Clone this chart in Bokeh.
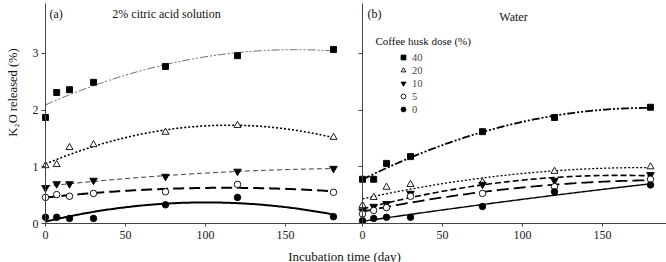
import numpy as np
from bokeh.plotting import figure
from bokeh.models import Range1d, LinearAxis, FixedTicker, Label, Legend, LegendItem
from bokeh.embed import file_html
from bokeh.resources import INLINE

# ---------------- data ----------------
days = [0, 7, 15, 30, 75, 120, 180]
doses = ["40", "20", "10", "5", "0"]

# (a) 2% citric acid solution
a_40 = [1.87, 2.31, 2.36, 2.49, 2.77, 2.96, 3.07]
a_20 = [1.02, 1.04, 1.34, 1.39, 1.61, 1.73, 1.52]
a_10 = [0.63, 0.70, 0.70, 0.76, 0.83, 0.92, 0.97]
a_5 = [0.46, 0.51, 0.48, 0.53, 0.56, 0.69, 0.55]
a_0 = [0.11, 0.11, 0.09, 0.09, 0.33, 0.46, 0.12]

# (b) water
b_40 = [0.78, 0.78, 1.06, 1.18, 1.62, 1.87, 2.05]
b_20 = [0.32, 0.46, 0.64, 0.69, 0.73, 0.92, 1.00]
b_10 = [0.22, 0.30, 0.35, 0.53, 0.69, 0.76, 0.86]
b_5 = [0.17, 0.23, 0.28, 0.48, 0.53, 0.65, 0.78]
b_0 = [0.05, 0.09, 0.11, 0.11, 0.30, 0.56, 0.68]

x_ticks = [0, 50, 100, 150]
y_ticks = [0, 1, 2, 3]

FONT = "Liberation Serif"

# ---------------- layout constants ----------------
PX_PER_DAY = 1.6
A0 = 45          # pixel of day 0, panel a
B0 = 362         # pixel of day 0, panel b
W, H = 666, 262
PX_PER_UNIT = 56.7
Y0 = 223         # pixel of value 0

x_a = Range1d(-A0 / PX_PER_DAY, (W - A0) / PX_PER_DAY)
x_b = Range1d(-B0 / PX_PER_DAY, (W - B0) / PX_PER_DAY)
y_r = Range1d(-(H - Y0) / PX_PER_UNIT, Y0 / PX_PER_UNIT)

p = figure(width=W, height=H, x_range=x_a, y_range=y_r,
           x_axis_location=None, y_axis_location=None,
           output_backend="svg", toolbar_location=None,
           min_border_left=0, min_border_right=0,
           min_border_top=0, min_border_bottom=0)
p.extra_x_ranges = {"b": x_b}
p.outline_line_color = None
for g in p.grid:
    g.visible = False

# ---------------- axes ----------------
b_off = (B0 - A0) / PX_PER_DAY
xt = list(x_ticks) + [b_off + t for t in x_ticks]
ov = {float(t): str(t) for t in x_ticks}
ov.update({float(b_off + t): str(t) for t in x_ticks})
xa = LinearAxis(fixed_location=0, bounds=(0, x_a.end), ticker=FixedTicker(ticks=xt),
                major_label_overrides=ov, axis_line_color="#444", major_tick_line_color="#444",
                major_tick_in=0, major_tick_out=3, minor_tick_in=0, minor_tick_out=0,
                major_label_standoff=4, major_label_text_font=FONT,
                major_label_text_font_size="12px", major_label_text_color="#222")
p.add_layout(xa, "below")

ytop = 220 / PX_PER_UNIT
ya = LinearAxis(fixed_location=0, bounds=(0, ytop), ticker=FixedTicker(ticks=y_ticks),
                axis_line_color="#444", major_tick_line_color="#444",
                major_tick_in=0, major_tick_out=4, minor_tick_in=0, minor_tick_out=0,
                major_label_standoff=3, major_label_text_font=FONT,
                major_label_text_font_size="12px", major_label_text_color="#222")
p.add_layout(ya, "left")
yb = LinearAxis(x_range_name="b", fixed_location=0, bounds=(0, ytop),
                ticker=FixedTicker(ticks=y_ticks),
                major_label_overrides={t: "" for t in y_ticks},
                axis_line_color="#444", major_tick_line_color="#444",
                major_tick_in=0, major_tick_out=4, minor_tick_in=0, minor_tick_out=0,
                major_label_standoff=0, major_label_text_font_size="1px")
p.add_layout(yb, "left")

# ---------------- series ----------------
markers = {"40": ("square", 6, "black"), "20": ("triangle", 7, "white"),
           "10": ("inverted_triangle", 7.5, "black"), "5": ("circle", 6.5, "white"),
           "0": ("circle", 6.5, "black")}
styles_a = {"40": ("8 2 2 2 2 2", 1.0, "#666"), "20": ("2 2", 1.6, "black"),
            "10": ("5 3", 1.0, "#333"), "5": ("11 5", 2.0, "black"), "0": ("solid", 2.0, "black")}
styles_b = {"40": ("8 2 2 2 2 2", 1.8, "black"), "20": ("2 2", 1.3, "black"),
            "10": ("6 3", 1.6, "black"), "5": ("12 5", 1.8, "black"), "0": ("solid", 1.4, "black")}

series_a = [a_40, a_20, a_10, a_5, a_0]
series_b = [b_40, b_20, b_10, b_5, b_0]

xs_fit = np.linspace(min(days), max(days), 181)
legend_renderers = {}
for panel, series, styles in (("a", series_a, styles_a), ("b", series_b, styles_b)):
    rn = "default" if panel == "a" else "b"
    for dose, vals in zip(doses, series):
        coef = np.polyfit(days, vals, 2)
        dash, lw, lc = styles[dose]
        p.line(xs_fit, np.polyval(coef, xs_fit), line_dash=dash, line_width=lw,
               line_color=lc, x_range_name=rn)
    for dose, vals in zip(doses, series):
        mk, sz, fc = markers[dose]
        r = p.scatter(days, vals, marker=mk, size=sz, fill_color=fc,
                      line_color="black", line_width=0.9, x_range_name=rn)
        if panel == "b":
            legend_renderers[dose] = r

# ---------------- legend ----------------
leg = Legend(items=[LegendItem(label=d, renderers=[legend_renderers[d]]) for d in doses],
             location=(397, 147), glyph_width=12, glyph_height=12, label_height=12,
             label_standoff=3, spacing=1, padding=0, margin=0,
             border_line_color=None, background_fill_alpha=0,
             label_text_font=FONT, label_text_font_size="10.5px")
p.add_layout(leg)

# ---------------- texts ----------------
def lab(txt, x, y, size, align="left", baseline="middle", angle=0):
    p.add_layout(Label(x=x, y=H - y, x_units="screen", y_units="screen",
                       text=txt, text_font=FONT, text_font_size=size,
                       text_align=align, text_baseline=baseline, angle=angle,
                       text_color="#111"))

lab("(a)", 49, 13, "12px")
lab("2% citric acid solution", 166, 13, "12px", align="center")
lab("(b)", 367, 13, "12px")
lab("Water", 513, 16, "12px", align="center")
lab("Coffee husk dose (%)", 375, 40, "11px")
lab("K\u2082O released (%)", 12, 92, "12.5px", align="center", angle=np.pi / 2)
lab("Incubation time (day)", 344, 248, "13px", align="center", baseline="top")

open("out.html", "w").write(file_html(p, INLINE))
